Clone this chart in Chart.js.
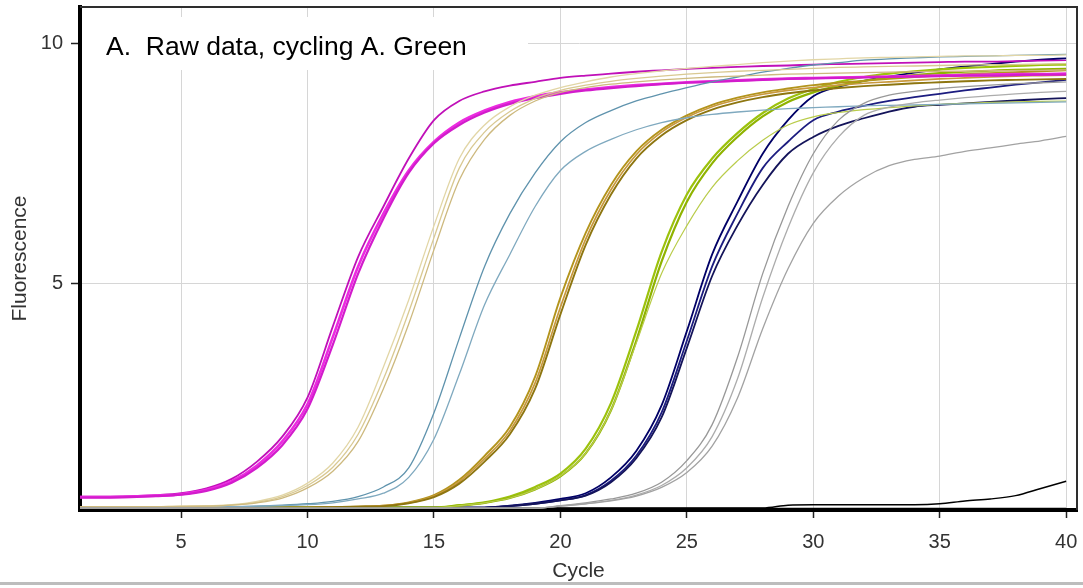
<!DOCTYPE html>
<html>
<head>
<meta charset="utf-8">
<title>Raw data, cycling A. Green</title>
<script src="https://cdn.jsdelivr.net/npm/chart.js@4.4.1/dist/chart.umd.min.js"></script>
<style>
  html, body { margin: 0; padding: 0; background: #ffffff; }
  canvas { display: block; }
</style>
</head>
<body>
<canvas id="c" width="1083" height="588"></canvas>
<script>
// Cycle numbers and axis tick labels
const cycles = [1,2,3,4,5,6,7,8,9,10,11,12,13,14,15,16,17,18,19,20,21,22,23,24,25,26,27,28,29,30,31,32,33,34,35,36,37,38,39,40];
const cycleTicks = [5,10,15,20,25,30,35,40];
const fluorTicks = [5,10];

// Fluorescence readings per cycle, one array per well
const magenta1 = [0.55,0.55,0.56,0.58,0.62,0.72,0.92,1.28,1.8,2.62,4.1,5.55,6.6,7.6,8.4,8.8,9.0,9.12,9.2,9.28,9.33,9.37,9.41,9.44,9.47,9.49,9.51,9.53,9.54,9.56,9.57,9.58,9.59,9.6,9.61,9.62,9.62,9.63,9.64,9.65];
const magenta2 = [0.54,0.54,0.55,0.57,0.6,0.69,0.87,1.2,1.7,2.48,3.88,5.35,6.45,7.35,7.95,8.35,8.6,8.78,8.9,8.98,9.04,9.09,9.13,9.16,9.19,9.21,9.23,9.25,9.27,9.28,9.29,9.3,9.31,9.32,9.33,9.34,9.35,9.36,9.36,9.37];
const magenta3 = [0.53,0.53,0.54,0.56,0.59,0.67,0.84,1.15,1.62,2.38,3.72,5.2,6.35,7.3,7.92,8.3,8.56,8.74,8.86,8.95,9.02,9.07,9.11,9.15,9.18,9.2,9.22,9.24,9.26,9.27,9.28,9.29,9.3,9.31,9.32,9.33,9.33,9.34,9.35,9.35];
const tan1 = [0.34,0.34,0.34,0.34,0.35,0.36,0.38,0.45,0.58,0.83,1.25,2.0,3.25,4.65,6.2,7.6,8.3,8.68,8.92,9.08,9.2,9.3,9.37,9.43,9.48,9.52,9.56,9.6,9.63,9.66,9.68,9.7,9.71,9.72,9.73,9.74,9.74,9.75,9.75,9.76];
const tan2 = [0.34,0.34,0.34,0.34,0.34,0.35,0.37,0.42,0.52,0.73,1.08,1.7,2.8,4.15,5.7,7.15,8.0,8.5,8.8,8.98,9.08,9.15,9.2,9.24,9.27,9.3,9.32,9.34,9.36,9.37,9.38,9.39,9.4,9.41,9.42,9.42,9.43,9.44,9.44,9.45];
const tan3 = [0.34,0.34,0.34,0.34,0.35,0.35,0.37,0.43,0.55,0.78,1.16,1.85,3.0,4.4,5.95,7.4,8.15,8.58,8.85,9.02,9.13,9.21,9.27,9.32,9.36,9.39,9.42,9.44,9.46,9.48,9.5,9.51,9.52,9.53,9.54,9.55,9.56,9.56,9.57,9.58];
const teal1 = [0.33,0.33,0.33,0.33,0.33,0.34,0.34,0.35,0.37,0.4,0.45,0.55,0.75,1.15,2.3,3.85,5.35,6.45,7.3,7.95,8.35,8.6,8.8,8.95,9.08,9.2,9.3,9.4,9.48,9.55,9.6,9.65,9.68,9.7,9.72,9.73,9.74,9.75,9.76,9.77];
const teal2 = [0.33,0.33,0.33,0.33,0.33,0.34,0.34,0.35,0.36,0.38,0.42,0.5,0.62,0.95,1.75,3.1,4.55,5.6,6.6,7.35,7.75,8.0,8.2,8.35,8.45,8.52,8.57,8.61,8.64,8.66,8.68,8.7,8.71,8.72,8.73,8.74,8.75,8.76,8.77,8.78];
const olive1 = [0.32,0.32,0.32,0.32,0.32,0.32,0.32,0.32,0.32,0.32,0.33,0.34,0.36,0.43,0.58,0.9,1.4,2.0,3.05,4.7,6.05,7.05,7.75,8.2,8.5,8.72,8.87,8.98,9.06,9.13,9.18,9.22,9.26,9.3,9.33,9.36,9.38,9.4,9.42,9.44];
const olive2 = [0.32,0.32,0.32,0.32,0.32,0.32,0.32,0.32,0.32,0.32,0.33,0.34,0.35,0.41,0.54,0.82,1.28,1.85,2.8,4.35,5.8,6.85,7.6,8.08,8.4,8.62,8.77,8.88,8.96,9.02,9.07,9.11,9.14,9.17,9.19,9.21,9.23,9.24,9.25,9.26];
const olive3 = [0.32,0.32,0.32,0.32,0.32,0.32,0.32,0.32,0.32,0.32,0.33,0.34,0.36,0.42,0.56,0.86,1.34,1.92,2.92,4.5,5.92,6.95,7.68,8.15,8.46,8.68,8.83,8.94,9.02,9.08,9.13,9.17,9.2,9.23,9.26,9.28,9.3,9.32,9.33,9.34];
const green1 = [0.32,0.32,0.32,0.32,0.32,0.32,0.32,0.32,0.32,0.32,0.32,0.32,0.32,0.32,0.32,0.37,0.43,0.55,0.75,1.03,1.55,2.5,4.0,5.65,6.85,7.6,8.13,8.55,8.85,9.05,9.2,9.3,9.37,9.42,9.46,9.49,9.51,9.53,9.55,9.56];
const green2 = [0.32,0.32,0.32,0.32,0.32,0.32,0.32,0.32,0.32,0.32,0.32,0.32,0.32,0.32,0.32,0.36,0.42,0.52,0.7,0.97,1.45,2.35,3.8,5.45,6.7,7.5,8.05,8.48,8.78,8.98,9.12,9.22,9.29,9.34,9.38,9.41,9.43,9.45,9.46,9.47];
const green3 = [0.32,0.32,0.32,0.32,0.32,0.32,0.32,0.32,0.32,0.32,0.32,0.32,0.32,0.32,0.32,0.36,0.42,0.52,0.7,0.98,1.45,2.35,3.75,5.2,6.2,7.0,7.55,7.98,8.3,8.47,8.56,8.62,8.66,8.7,8.73,8.75,8.77,8.78,8.79,8.8];
const navy1 = [0.32,0.32,0.32,0.32,0.32,0.32,0.32,0.32,0.32,0.32,0.32,0.32,0.32,0.32,0.32,0.32,0.32,0.36,0.42,0.5,0.62,0.95,1.5,2.45,4.0,5.6,6.7,7.7,8.4,8.9,9.1,9.22,9.31,9.39,9.46,9.52,9.57,9.62,9.66,9.69];
const navy2 = [0.32,0.32,0.32,0.32,0.32,0.32,0.32,0.32,0.32,0.32,0.32,0.32,0.32,0.32,0.32,0.32,0.32,0.35,0.4,0.47,0.58,0.88,1.4,2.3,3.8,5.35,6.45,7.4,7.95,8.4,8.58,8.7,8.8,8.88,8.95,9.02,9.08,9.14,9.19,9.24];
const navy3 = [0.32,0.32,0.32,0.32,0.32,0.32,0.32,0.32,0.32,0.32,0.32,0.32,0.32,0.32,0.32,0.32,0.32,0.35,0.4,0.47,0.57,0.85,1.35,2.2,3.65,5.15,6.2,7.05,7.7,8.05,8.28,8.44,8.58,8.68,8.72,8.75,8.78,8.81,8.84,8.86];
const gray1 = [0.31,0.31,0.31,0.31,0.31,0.31,0.31,0.31,0.31,0.31,0.31,0.31,0.31,0.31,0.31,0.31,0.31,0.31,0.31,0.36,0.42,0.5,0.62,0.85,1.3,2.05,3.45,5.2,6.6,7.7,8.4,8.75,8.92,9.0,9.06,9.1,9.13,9.16,9.18,9.2];
const gray2 = [0.31,0.31,0.31,0.31,0.31,0.31,0.31,0.31,0.31,0.31,0.31,0.31,0.31,0.31,0.31,0.31,0.31,0.31,0.31,0.35,0.4,0.47,0.58,0.78,1.15,1.8,3.0,4.7,6.15,7.3,8.05,8.5,8.67,8.76,8.82,8.87,8.91,8.95,8.98,9.0];
const gray3 = [0.31,0.31,0.31,0.31,0.31,0.31,0.31,0.31,0.31,0.31,0.31,0.31,0.31,0.31,0.31,0.31,0.31,0.31,0.31,0.35,0.4,0.46,0.56,0.74,1.05,1.6,2.6,4.05,5.3,6.25,6.82,7.2,7.45,7.58,7.65,7.75,7.82,7.9,7.97,8.06];
const black1 = [0.31,0.31,0.31,0.31,0.31,0.31,0.31,0.31,0.31,0.31,0.31,0.31,0.31,0.31,0.31,0.31,0.31,0.31,0.31,0.31,0.31,0.31,0.31,0.31,0.31,0.31,0.31,0.31,0.37,0.38,0.38,0.38,0.38,0.38,0.4,0.46,0.5,0.57,0.72,0.87];
const black2 = [0.3,0.3,0.3,0.3,0.3,0.3,0.3,0.3,0.3,0.3,0.3,0.3,0.3,0.3,0.3,0.3,0.3,0.3,0.3,0.3,0.3,0.3,0.3,0.3,0.3,0.3,0.3,0.3,0.3,0.3,0.3,0.3,0.3,0.3,0.3,0.3,0.3,0.3,0.3,0.3];

// Drawing order and line style for each well
const wells = [
  { values: gray3,    color: '#a2a2a2', width: 1.3 },
  { values: gray2,    color: '#acacac', width: 1.3 },
  { values: gray1,    color: '#989898', width: 1.3 },
  { values: tan2,     color: '#cdb97e', width: 1.3 },
  { values: tan3,     color: '#d9c992', width: 1.3 },
  { values: tan1,     color: '#e2d6a6', width: 1.3 },
  { values: teal2,    color: '#7fa9bf', width: 1.3 },
  { values: teal1,    color: '#5f93ad', width: 1.3 },
  { values: magenta3, color: '#d21ccc', width: 2.2 },
  { values: magenta2, color: '#ec2be0', width: 2.6 },
  { values: magenta1, color: '#c010b8', width: 1.8 },
  { values: olive2,   color: '#8e7610', width: 1.9 },
  { values: olive3,   color: '#c8983c', width: 1.7 },
  { values: olive1,   color: '#b3941c', width: 1.9 },
  { values: green3,   color: '#b9cc4a', width: 1.2 },
  { values: green2,   color: '#8fb300', width: 2.2 },
  { values: green1,   color: '#9cc20c', width: 2.2 },
  { values: navy3,    color: '#14145a', width: 1.8 },
  { values: navy2,    color: '#1c1c80', width: 1.8 },
  { values: navy1,    color: '#000066', width: 1.8 },
  { values: black2,   color: '#000000', width: 1.5 },
  { values: black1,   color: '#000000', width: 1.5 }
];

const FONT = '"Liberation Sans", Arial, Helvetica, sans-serif';

// Canvas background, panel title box and the thin top/right frame
const panelDecor = {
  id: 'panelDecor',
  beforeDraw(chart) {
    const { ctx, width, height } = chart;
    ctx.save();
    ctx.fillStyle = '#ffffff';
    ctx.fillRect(0, 0, width, height);
    ctx.restore();
  },
  beforeDatasetsDraw(chart) {
    const { ctx, chartArea: a } = chart;
    ctx.save();
    ctx.fillStyle = '#ffffff';
    ctx.fillRect(a.left + 2, 17, 446, 53);
    ctx.fillStyle = '#000000';
    ctx.font = '26.5px ' + FONT;
    ctx.textBaseline = 'alphabetic';
    ctx.fillText('A.  Raw data, cycling A. Green', 106, 55);
    ctx.restore();
  },
  afterDraw(chart) {
    const { ctx, chartArea: a, width } = chart;
    ctx.save();
    ctx.strokeStyle = '#2e2e2e';
    ctx.lineWidth = 2;
    ctx.beginPath();
    ctx.moveTo(a.left, a.top);
    ctx.lineTo(a.right, a.top);
    ctx.lineTo(a.right, a.bottom);
    ctx.stroke();
    ctx.fillStyle = '#bdbdbd';
    ctx.fillRect(0, 582, width, 3);
    ctx.restore();
  }
};

new Chart(document.getElementById('c'), {
  type: 'line',
  data: {
    datasets: wells.map(w => ({
      data: cycles.map((c, i) => ({ x: c, y: w.values[i] })),
      borderColor: w.color,
      borderWidth: w.width,
      pointRadius: 0,
      fill: false,
      cubicInterpolationMode: 'monotone'
    }))
  },
  options: {
    responsive: false,
    animation: false,
    events: [],
    layout: { padding: { top: 7, right: 6, left: 0, bottom: 0 } },
    plugins: { legend: { display: false }, tooltip: { enabled: false }, title: { display: false } },
    scales: {
      x: {
        type: 'linear',
        min: 1,
        max: 40.43,
        afterFit(scale) {
          scale.height = 78;
          scale.paddingLeft = 0;
          scale.paddingRight = 0;
        },
        afterBuildTicks(scale) { scale.ticks = cycleTicks.map(v => ({ value: v })); },
        grid: { color: '#d6d6d6', lineWidth: 1, drawTicks: true, tickLength: 8, tickColor: '#222', tickWidth: 1.5 },
        border: { display: true, color: '#000000', width: 4 },
        ticks: { font: { family: FONT, size: 20 }, color: '#333333', padding: 12, maxRotation: 0, autoSkip: false },
        title: { display: true, text: 'Cycle', font: { family: FONT, size: 21 }, color: '#333333', padding: { top: 0, bottom: 4 } }
      },
      y: {
        type: 'linear',
        min: 0.27,
        max: 10.76,
        afterFit(scale) {
          scale.width = 80;
          scale.paddingTop = 0;
          scale.paddingBottom = 0;
        },
        afterBuildTicks(scale) { scale.ticks = fluorTicks.map(v => ({ value: v })); },
        grid: { color: '#d6d6d6', lineWidth: 1, drawTicks: true, tickLength: 9, tickColor: '#222', tickWidth: 1.5 },
        border: { display: true, color: '#000000', width: 4 },
        ticks: { font: { family: FONT, size: 20 }, color: '#333333', padding: 8 },
        title: { display: true, text: 'Fluorescence', font: { family: FONT, size: 21 }, color: '#333333', padding: { top: 8, bottom: 0 } }
      }
    }
  },
  plugins: [panelDecor]
});
</script>
</body>
</html>
